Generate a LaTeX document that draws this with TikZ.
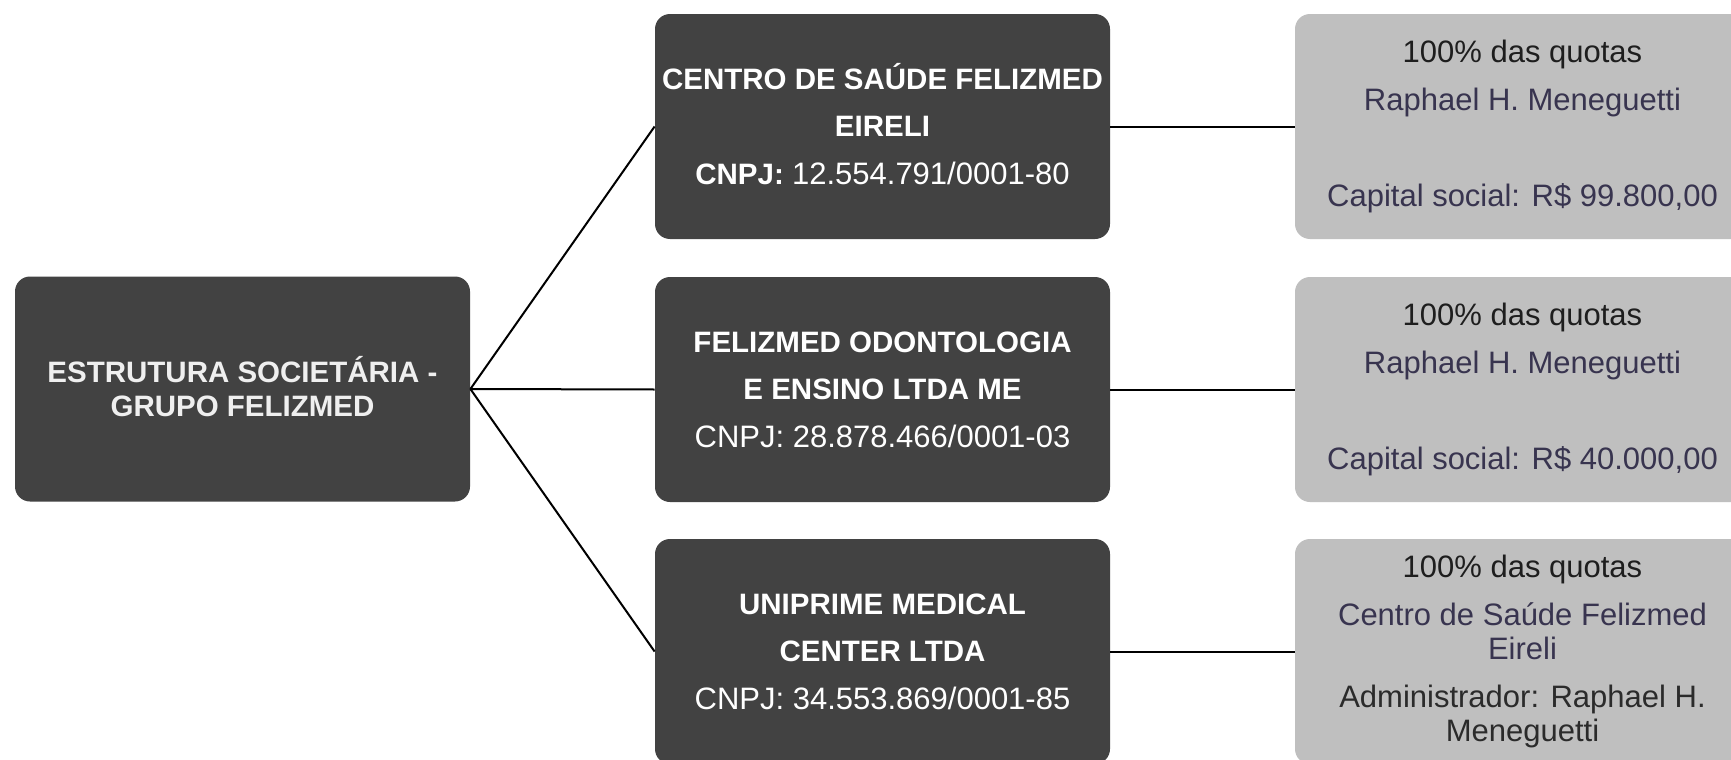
\documentclass[tikz,border=0pt]{standalone}
\usepackage{fontspec}
\setmainfont{Liberation Sans}
\definecolor{boxdark}{HTML}{424242}
\definecolor{boxlight}{HTML}{BFBFBF}
\definecolor{txtpurple}{HTML}{38344F}
\definecolor{txtdark}{HTML}{1E1E1E}
\definecolor{txtgrey}{HTML}{2B2B2B}
\definecolor{txtleft}{HTML}{EFEFEF}
\newcommand\regtxt{\fontsize{15.5}{23.75}\selectfont\mdseries}
\begin{document}
\begin{tikzpicture}[x=0.5pt,y=-0.5pt,
  darkbox/.style={rectangle, rounded corners=7.5pt, fill=boxdark, draw=none,
    minimum width=227.5pt, minimum height=112.5pt, inner sep=0pt,
    text=white, align=center, font=\fontsize{14.75}{23.75}\selectfont\bfseries},
  lightbox/.style={rectangle, rounded corners=7.5pt, fill=boxlight, draw=none,
    minimum width=227.5pt, minimum height=112.5pt, inner sep=0pt,
    align=center, font=\fontsize{15.5}{24}\selectfont},
  link/.style={draw=black, line width=1pt}]
\useasboundingbox (0,0) rectangle (1731,760);
\fill[white] (0,0) rectangle (1731,760);

\node[darkbox, text=txtleft, font=\fontsize{14.75}{17}\selectfont\bfseries] (root) at (242.5,389)
  {ESTRUTURA SOCIET\smash{Á}RIA -\\GRUPO FELIZMED};

\node[darkbox] (m1) at (882.5,126.5)
  {CENTRO DE SA\smash{Ú}DE FELIZMED\\EIRELI\\CNPJ: {\regtxt 12.554.791/0001-80}};
\node[darkbox] (m2) at (882.5,389.5)
  {FELIZMED ODONTOLOGIA\\E ENSINO LTDA ME\\{\regtxt CNPJ: 28.878.466/0001-03}};
\node[darkbox] (m3) at (882.5,651.5)
  {UNIPRIME MEDICAL\\CENTER LTDA\\{\regtxt CNPJ: 34.553.869/0001-85}};

\node[lightbox] (r1) at (1522.5,126.5)
  {\textcolor{txtdark}{100\% das quotas}\\
   \textcolor{txtpurple}{Raphael H. Meneguetti}\\[24pt]
   \textcolor{txtpurple}{Capital social: R\$ 99.800,00}};
\node[lightbox] (r2) at (1522.5,389.5)
  {\textcolor{txtdark}{100\% das quotas}\\
   \textcolor{txtpurple}{Raphael H. Meneguetti}\\[24pt]
   \textcolor{txtpurple}{Capital social: R\$ 40.000,00}};
\node[lightbox, font=\fontsize{15.5}{17.25}\selectfont] (r3) at (1522.5,651.5)
  {\textcolor{txtdark}{100\% das quotas}\\[6.5pt]
   \textcolor{txtpurple}{Centro de Saúde Felizmed}\\
   \textcolor{txtpurple}{Eireli}\\[6.5pt]
   \textcolor{txtgrey}{Administrador: Raphael H.}\\
   \textcolor{txtgrey}{Meneguetti}};

\draw[link] (root.east) -- (m1.west);
\draw[link] (root.east) -- (m2.west);
\draw[link] (root.east) -- (m3.west);
\draw[link] (m1.east) -- (r1.west);
\draw[link] (m2.east) -- (r2.west);
\draw[link] (m3.east) -- (r3.west);
\end{tikzpicture}
\end{document}
